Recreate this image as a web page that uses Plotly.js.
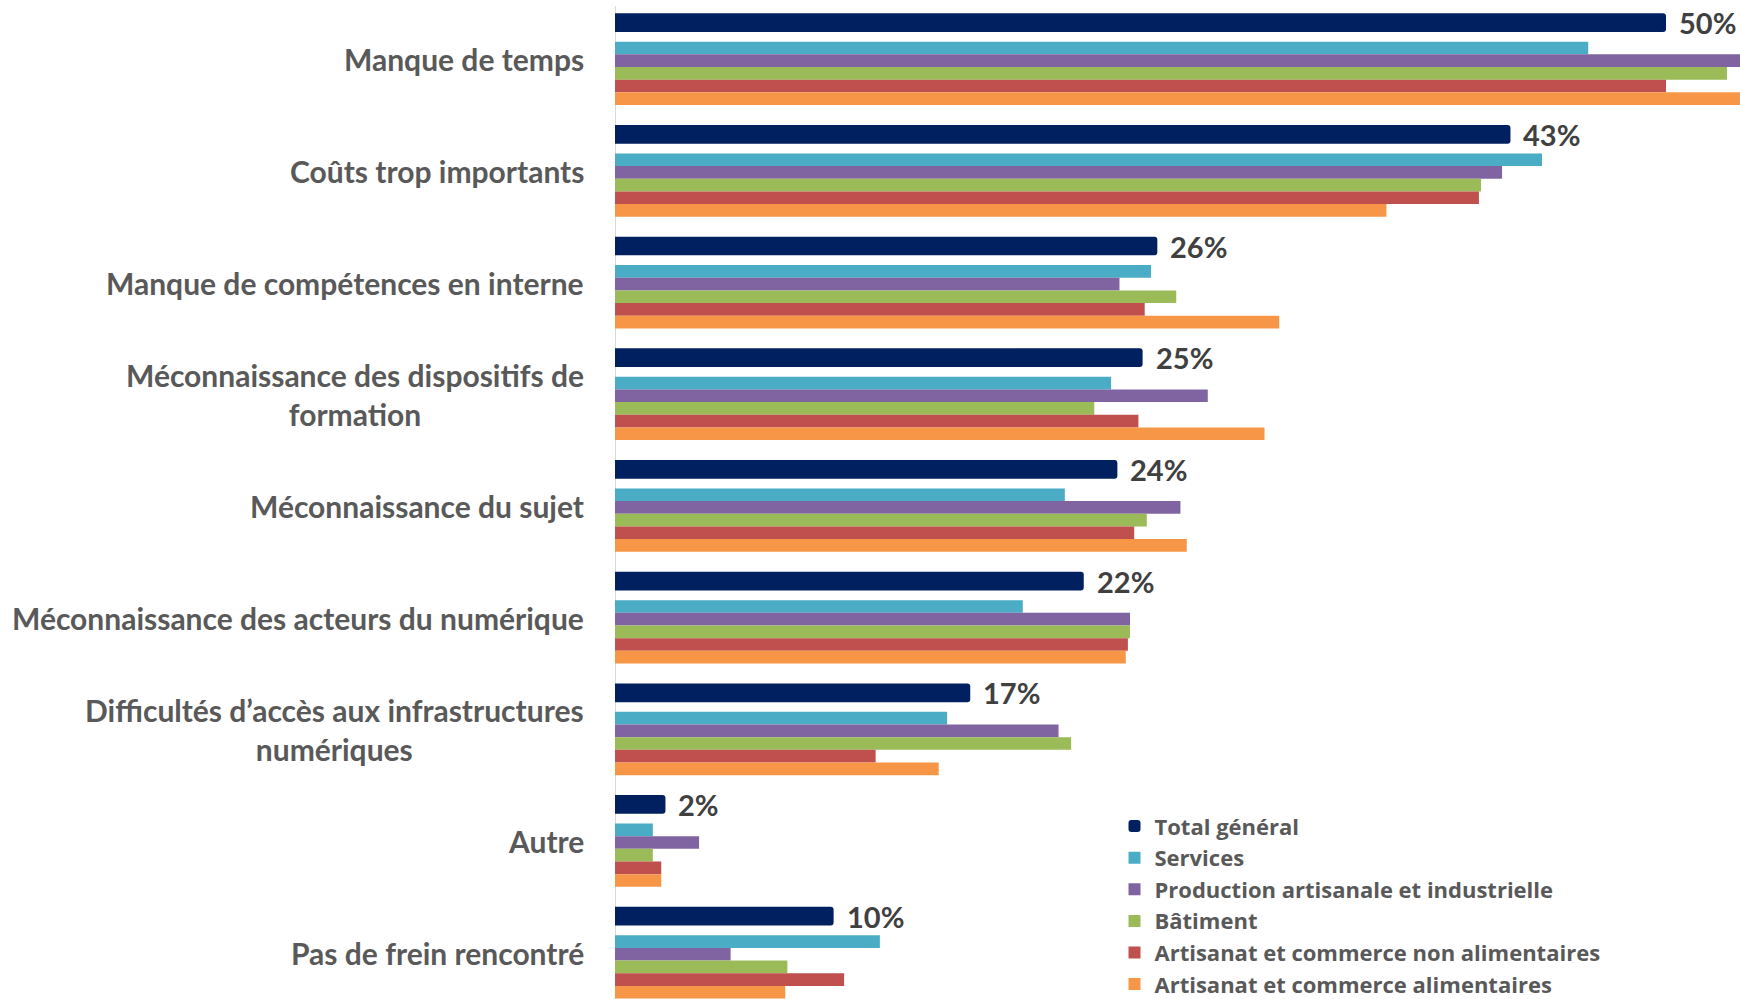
<!DOCTYPE html>
<html>
<head>
<meta charset="utf-8">
<script src="https://cdn.plot.ly/plotly-3.0.1.min.js"></script>
<style>
  html, body { margin: 0; padding: 0; background: #ffffff; }
  #chart { width: 1740px; height: 999px; }
</style>
</head>
<body>
<div id="chart"></div>
<script>
// ---- Data ----
const categories = [
  "Manque de temps",
  "Coûts trop importants",
  "Manque de compétences en interne",
  "Méconnaissance des dispositifs de formation",
  "Méconnaissance du sujet",
  "Méconnaissance des acteurs du numérique",
  "Difficultés d’accès aux infrastructures numériques",
  "Autre",
  "Pas de frein rencontré"
];
const tickLabels = [
  "Manque de temps",
  "Coûts trop importants",
  "Manque de compétences en interne",
  "Méconnaissance des dispositifs de<br>formation",
  "Méconnaissance du sujet",
  "Méconnaissance des acteurs du numérique",
  "Difficultés d’accès aux infrastructures<br>numériques",
  "Autre",
  "Pas de frein rencontré"
];
const seriesNames = [
  "Total général",
  "Services",
  "Production artisanale et industrielle",
  "Bâtiment",
  "Artisanat et commerce non alimentaires",
  "Artisanat et commerce alimentaires"
];
const totalGeneral = [50.0, 42.6, 25.8, 25.1, 23.9, 22.3, 16.9, 2.4, 10.4];
const services     = [46.3, 44.1, 25.5, 23.6, 21.4, 19.4, 15.8, 1.8, 12.6];
const production   = [55.0, 42.2, 24.0, 28.2, 26.9, 24.5, 21.1, 4.0, 5.5];
const batiment     = [52.9, 41.2, 26.7, 22.8, 25.3, 24.5, 21.7, 1.8, 8.2];
const nonAlim      = [50.0, 41.1, 25.2, 24.9, 24.7, 24.4, 12.4, 2.2, 10.9];
const alim         = [54.5, 36.7, 31.6, 30.9, 27.2, 24.3, 15.4, 2.2, 8.1];

// ---- Styles ----
const colors = ["#002060", "#4BACC6", "#8064A2", "#9BBB59", "#C0504D", "#F79646"];
const FONT = "Lato, 'Open Sans', sans-serif";
const LEGEND_FONT = "'Open Sans', Lato, sans-serif";
const labelColor = "#595959";

const seriesValues = [totalGeneral, services, production, batiment, nonAlim, alim];

// bar geometry in category units
const totalWidth = 0.1674;
const totalOffset = -0.411;
const subWidth = 0.1134;
const subStart = -0.1567;

const traces = seriesValues.map((vals, i) => {
  const isTotal = i === 0;
  return {
    type: "bar",
    orientation: "h",
    name: seriesNames[i],
    y: categories,
    x: vals,
    width: isTotal ? totalWidth : subWidth,
    offset: isTotal ? totalOffset : subStart + (i - 1) * subWidth,
    marker: {
      color: colors[i],
      cornerradius: isTotal ? 3 : 0,
      line: { width: 0 }
    },
    hoverinfo: "skip"
  };
});

const annotations = [];
categories.forEach((c, k) => {
  annotations.push({
    xref: "paper", yref: "y",
    x: 0, y: k,
    xanchor: "right", yanchor: "middle",
    xshift: -29,
    text: tickLabels[k],
    align: "center",
    showarrow: false,
    font: { family: FONT, size: 30, color: labelColor, weight: 700 }
  });
  annotations.push({
    xref: "x", yref: "y",
    x: totalGeneral[k], y: k + totalOffset + totalWidth / 2,
    xanchor: "left", yanchor: "middle",
    xshift: 11,
    text: Math.round(totalGeneral[k]) + "%",
    showarrow: false,
    font: { family: FONT, size: 29, color: "#404040", weight: 700 }
  });
});

const layout = {
  width: 1740,
  height: 999,
  margin: { l: 615, r: 0, t: 0, b: 0, pad: 0, autoexpand: false },
  paper_bgcolor: "#ffffff",
  plot_bgcolor: "#ffffff",
  barmode: "overlay",
  showlegend: true,
  legend: {
    x: 0.444, y: 0.1939,
    xanchor: "left", yanchor: "top",
    bgcolor: "rgba(0,0,0,0)",
    font: { family: LEGEND_FONT, size: 22, color: labelColor, weight: 700 },
    traceorder: "normal",
    itemclick: false
  },
  xaxis: {
    range: [0, 53.52],
    showgrid: false,
    zeroline: false,
    showticklabels: false,
    showline: false,
    ticks: ""
  },
  yaxis: {
    type: "category",
    categoryorder: "array",
    categoryarray: categories,
    range: [8.4144, -0.530],
    autorange: false,
    showgrid: false,
    zeroline: false,
    showticklabels: false,
    showline: false,
    ticks: ""
  },
  shapes: [{
    type: "line",
    layer: "below",
    xref: "x", yref: "paper",
    x0: 0, x1: 0, y0: 0, y1: 0.994,
    xshift: -1,
    line: { color: "#d9d9d9", width: 2 }
  }],
  annotations: annotations
};

Plotly.newPlot("chart", traces, layout, { staticPlot: true, displayModeBar: false });
</script>
</body>
</html>
